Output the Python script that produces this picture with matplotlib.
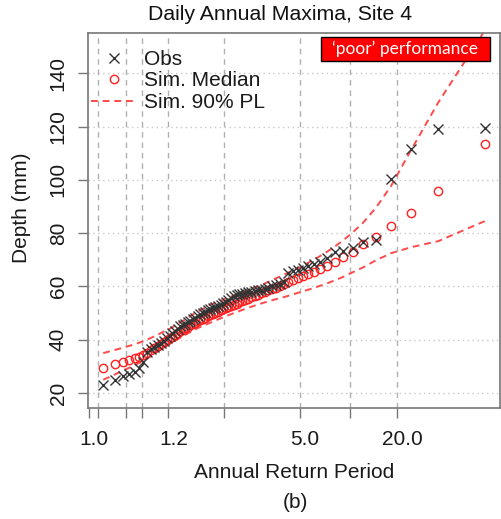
import numpy as np
import matplotlib
matplotlib.use('Agg')
import matplotlib.pyplot as plt
from matplotlib.patches import Rectangle
from matplotlib.lines import Line2D
from matplotlib.transforms import ScaledTranslation

plt.rcParams['font.family'] = ['Liberation Sans', 'DejaVu Sans']

# annual maxima (mm), ranked smallest to largest
obs = [23.0, 25.0, 26.5, 27.0, 28.0, 29.5, 31.5, 35.5, 36.5, 37.3,
       38.0, 38.8, 39.6, 40.5, 41.5, 42.5, 43.3, 44.2, 45.0, 45.5,
       46.0, 46.6, 47.2, 47.8, 48.3, 49.0, 49.5, 50.0, 50.5, 51.0,
       51.4, 51.8, 52.3, 52.8, 53.2, 53.7, 54.2, 54.8, 55.5, 56.3,
       56.8, 57.0, 57.3, 57.5, 57.8, 58.0, 58.2, 58.5, 58.8, 59.2,
       59.6, 60.0, 60.4, 60.8, 61.5, 65.0, 65.8, 66.3, 67.0, 67.8,
       68.5, 69.0, 70.5, 72.8, 73.4, 74.3, 76.8, 77.4, 100.2, 111.6,
       118.9, 119.5]

sim_median = [29.3, 31.0, 31.8, 32.4, 33.0, 33.6, 34.3, 35.0, 36.0, 37.0,
              37.8, 38.5, 39.2, 39.9, 40.6, 41.2, 41.9, 42.6, 43.2, 43.8,
              44.3, 44.9, 45.4, 45.9, 46.4, 46.9, 47.4, 47.9, 48.3, 48.8,
              49.2, 49.7, 50.1, 50.5, 51.0, 51.4, 51.8, 52.2, 52.6, 53.1,
              53.5, 54.0, 54.4, 54.9, 55.4, 55.9, 56.4, 56.9, 57.4, 57.9,
              58.5, 59.1, 59.6, 60.3, 60.9, 61.6, 62.3, 63.0, 63.8, 64.6,
              65.5, 66.5, 67.6, 69.0, 70.9, 72.8, 75.9, 78.6, 82.8, 87.7,
              95.9, 113.3]

sim_upper = [35.0, 36.2, 37.0, 37.7, 38.3, 38.9, 39.5, 40.1, 40.7, 41.3,
             41.9, 42.5, 43.1, 43.6, 44.1, 44.7, 45.3, 45.9, 46.5, 47.1,
             47.7, 48.3, 48.9, 49.5, 50.1, 50.6, 51.1, 51.6, 52.1, 52.6,
             53.2, 53.5, 53.9, 54.3, 54.6, 55.0, 55.4, 55.8, 56.2, 56.6,
             57.0, 57.4, 57.8, 58.2, 58.7, 59.1, 59.6, 60.1, 60.6, 61.1,
             61.7, 62.3, 63.0, 63.7, 64.4, 65.2, 66.0, 66.8, 67.8, 68.9,
             70.1, 71.5, 73.1, 75.0, 77.3, 80.2, 84.0, 89.5, 97.8, 111.0,
             129.0, 156.0]

sim_lower = [25.0, 27.0, 28.5, 29.5, 30.5, 31.3, 32.0, 33.0, 34.0, 34.8,
             35.6, 36.3, 37.0, 37.7, 38.4, 39.0, 39.6, 40.2, 40.8, 41.4,
             41.9, 42.4, 42.9, 43.4, 43.9, 44.4, 44.8, 45.2, 45.6, 46.0,
             46.4, 46.8, 47.2, 47.6, 48.0, 48.4, 48.8, 49.2, 49.6, 50.0,
             50.4, 50.8, 51.2, 51.6, 52.0, 52.4, 52.8, 53.2, 53.6, 54.0,
             54.4, 54.8, 55.2, 55.6, 56.0, 56.5, 57.0, 57.6, 58.2, 58.8,
             59.5, 60.3, 61.2, 62.3, 63.6, 65.3, 67.2, 69.8, 72.5, 74.7,
             77.0, 84.5]

tick_T = [1.005, 1.01, 1.05, 1.1, 1.25, 2, 5, 10, 20]
tick_lab = ['1.0', '', '', '', '1.2', '', '5.0', '', '20.0']
depth_ticks = [20, 40, 60, 80, 100, 120, 140]

# Weibull plotting positions -> return period
n = len(obs)
rank = np.arange(1, n + 1)
T = (n + 1) / (n + 1 - rank)


def gumbel(t):
    t = np.asarray(t, dtype=float)
    return -np.log(-np.log(1 - 1 / t))


def gumbel_inv(g):
    g = np.asarray(g, dtype=float)
    return 1 / (1 - np.exp(-np.exp(-g)))


W, H = 501, 519
fig = plt.figure(figsize=(W / 100, H / 100), dpi=100)
ax = fig.add_axes([88 / W, 1 - 408 / H, 412 / W, 375 / H])
ax.set_xscale('function', functions=(gumbel, gumbel_inv))

gray = '#777777'
for y in depth_ticks:
    ax.axhline(y, color='#c8c8c8', lw=1.0, ls=(0, (1, 2.5)), zorder=0)
for t in tick_T[1:]:
    ax.axvline(t, color='#b0b0b0', lw=1.0, ls=(0, (4, 3.5)), zorder=0)

pl_style = dict(color='#ff4a4a', lw=1.4, ls=(0, (3.5, 2.5)))
ax.plot(T, sim_upper, **pl_style)
ax.plot(T, sim_lower, **pl_style)
ax.plot(T, sim_median, 'o', ms=6, mfc='none', mec='#ff2020', mew=1.0)
ax.plot(T, obs, 'x', ms=6.5, color='#333333', mew=1.0)

g = gumbel(T)
gr = g.max() - g.min()
ax.set_xlim(gumbel_inv(g.min() - 0.04 * gr), gumbel_inv(g.max() + 0.04 * gr))
ax.set_ylim(14.4, 155.1)

ax.set_xticks(tick_T)
ax.set_xticklabels(tick_lab)
ax.xaxis.set_minor_locator(matplotlib.ticker.NullLocator())
ax.set_yticks(depth_ticks)
ax.set_yticklabels([str(v) for v in depth_ticks], rotation=90, va='center')
ax.tick_params(axis='both', direction='out', length=7.5, width=1.0, color=gray,
               labelsize=15, labelcolor='#1a1a1a')
ax.tick_params(axis='x', pad=8)
ax.tick_params(axis='y', pad=7)
for lab in ax.get_xticklabels():
    lab.set_transform(lab.get_transform() + ScaledTranslation(0.05, 0, fig.dpi_scale_trans))
for s in ax.spines.values():
    s.set_color(gray)
    s.set_linewidth(1.2)

fig.text(280 / W, 1 - 15 / H, 'Daily Annual Maxima, Site 4', ha='center', va='center',
         fontsize=15.3, color='#111111')
fig.text(294 / W, 1 - 473 / H, 'Annual Return Period', ha='center', va='center',
         fontsize=15, color='#1a1a1a')
fig.text(295 / W, 1 - 503 / H, '(b)', ha='center', va='center', fontsize=15, color='#1a1a1a')
fig.text(22 / W, 1 - 208 / H, 'Depth (mm)', ha='center', va='center', rotation=90,
         fontsize=15, color='#1a1a1a')

handles = [Line2D([], [], ls='none', marker='x', ms=6.5, color='#333333', mew=1.0),
           Line2D([], [], ls='none', marker='o', ms=6, mfc='none', mec='#ff2020', mew=1.0),
           Line2D([], [], **pl_style)]
ax.legend(handles, ['Obs', 'Sim. Median', 'Sim. 90% PL'], loc='upper left',
          bbox_to_anchor=(91 / W, 1 - 50 / H), bbox_transform=fig.transFigure,
          frameon=False, fontsize=15, handlelength=2.2, handletextpad=0.35,
          labelspacing=0.12, borderaxespad=0, borderpad=0, labelcolor='#1a1a1a')

box = Rectangle((321 / W, 1 - 61 / H), 169 / W, 24 / H, transform=fig.transFigure,
                facecolor='#ff0000', edgecolor='black', lw=1.0, zorder=5)
fig.patches.append(box)
fig.text(405.5 / W, 1 - 49 / H, '\u2018poor\u2019 performance', ha='center', va='center',
         color='white', fontsize=12.5, family=['Lato', 'DejaVu Sans'], zorder=6)

fig.savefig('out.png', dpi=100)
